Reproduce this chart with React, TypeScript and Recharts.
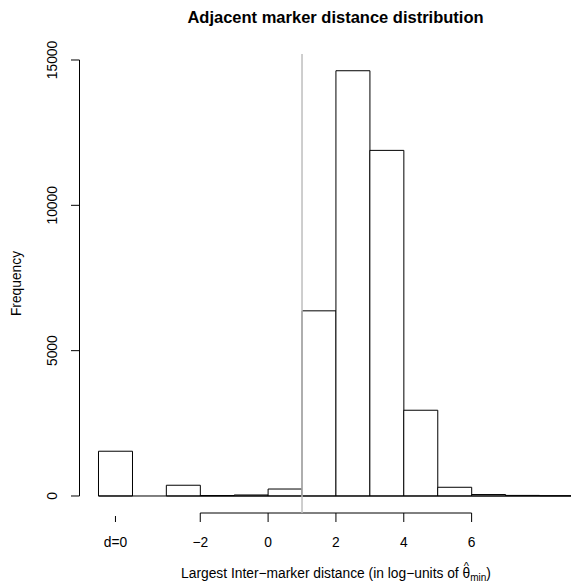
import { ComposedChart, Bar, XAxis, YAxis, ReferenceLine } from "recharts";

// histogram bins (left edges, width 1 in log-units) and their counts
const binStart = [-5, -4, -3, -2, -1, 0, 1, 2, 3, 4, 5, 6, 7, 8];
const counts = [1540, 0, 370, 15, 35, 240, 6370, 14630, 11890, 2950, 300, 50, 20, 10];

const yTicks = [0, 5000, 10000, 15000];
const xTicks = [-2, 0, 2, 4, 6];
const zeroTick = -4.5;
const zeroLabel = "d=0";
const cutoff = 1;

const X_DOMAIN: [number, number] = [-5.56, 8.93];
const Y_DOMAIN: [number, number] = [-585, 15206];
const FONT = '"Liberation Sans", Arial, Helvetica, sans-serif';

const data = binStart.map((s, i) => ({ mid: s + 0.5, count: counts[i] }));

const fmt = (v: number) => (v < 0 ? "\u2212" + Math.abs(v) : String(v));

// recharts hands the tick a y 30px below the axis top here
function XTick({ x, y, payload }: any) {
  const top = y - 30;
  const isZero = payload.value === zeroTick;
  return (
    <g>
      <line x1={x} x2={x} y1={isZero ? top + 3 : top} y2={top + 9} stroke="#000" />
      <text x={x} y={top + 34} textAnchor="middle" fontSize={13.8} fill="#000" fontFamily={FONT}>
        {isZero ? zeroLabel : fmt(payload.value)}
      </text>
    </g>
  );
}

function YTick({ x, y, payload }: any) {
  return (
    <g>
      <line x1={x} x2={x - 8.5} y1={y} y2={y} stroke="#000" />
      <text
        transform={`translate(${x - 23},${y}) rotate(-90)`}
        textAnchor="middle"
        fontSize={13.8}
        fill="#000"
        fontFamily={FONT}
      >
        {payload.value}
      </text>
    </g>
  );
}

export default function App() {
  const lastEdge = binStart[binStart.length - 1] + 1;
  return (
    <div
      style={{
        position: "absolute",
        left: 0,
        top: 0,
        width: 571,
        height: 583,
        overflow: "hidden",
        background: "#fff",
        fontFamily: FONT,
      }}
    >
      <ComposedChart
        width={571}
        height={583}
        data={data}
        margin={{ top: 54, right: 0, bottom: 0, left: 0 }}
        barCategoryGap={0}
        barGap={0}
      >
        <XAxis
          xAxisId="main"
          type="number"
          dataKey="mid"
          domain={X_DOMAIN}
          allowDataOverflow
          ticks={[zeroTick, ...xTicks]}
          interval={0}
          axisLine={false}
          tickLine={false}
          tickSize={0}
          tickMargin={0}
          height={70}
          tick={<XTick />}
        />
        <XAxis
          xAxisId="bins"
          type="number"
          dataKey="mid"
          domain={X_DOMAIN}
          allowDataOverflow
          tickCount={15}
          hide
        />
        <YAxis
          type="number"
          domain={Y_DOMAIN}
          allowDataOverflow
          ticks={yTicks}
          interval={0}
          width={79.5}
          axisLine={false}
          tickLine={false}
          tickSize={0}
          tickMargin={0}
          tick={<YTick />}
        />
        <Bar
          xAxisId="bins"
          dataKey="count"
          fill="#fff"
          stroke="#000"
          strokeWidth={1}
          isAnimationActive={false}
        />
        <ReferenceLine
          xAxisId="main"
          segment={[
            { x: binStart[0], y: 0 },
            { x: lastEdge, y: 0 },
          ]}
          stroke="#000"
          ifOverflow="visible"
        />
        <ReferenceLine
          xAxisId="main"
          segment={[
            { x: X_DOMAIN[0], y: yTicks[0] },
            { x: X_DOMAIN[0], y: yTicks[yTicks.length - 1] },
          ]}
          stroke="#000"
          ifOverflow="visible"
        />
        <ReferenceLine
          xAxisId="main"
          segment={[
            { x: xTicks[0], y: Y_DOMAIN[0] },
            { x: xTicks[xTicks.length - 1], y: Y_DOMAIN[0] },
          ]}
          stroke="#000"
          ifOverflow="visible"
        />
        <ReferenceLine xAxisId="main" x={cutoff} stroke="#bebebe" strokeWidth={1.5} />
      </ComposedChart>
      <svg
        width={571}
        height={583}
        style={{ position: "absolute", left: 0, top: 0, pointerEvents: "none" }}
      >
        <text x={335.5} y={23} textAnchor="middle" fontWeight="bold" fontSize={16.5} fontFamily={FONT}>
          Adjacent marker distance distribution
        </text>
        <text transform="translate(21,283.5) rotate(-90)" textAnchor="middle" fontSize={13.8} fontFamily={FONT}>
          Frequency
        </text>
        <text x={336} y={578} textAnchor="middle" fontSize={13.8} fontFamily={FONT}>
          Largest Inter{"\u2212"}marker distance (in log{"\u2212"}units of θ
          <tspan fontSize={11} dx={-6.6} dy={-8}>^</tspan>
          <tspan fontSize={10} dx={1.4} dy={11}>min</tspan>
          <tspan dy={-3}>)</tspan>
        </text>
      </svg>
    </div>
  );
}
